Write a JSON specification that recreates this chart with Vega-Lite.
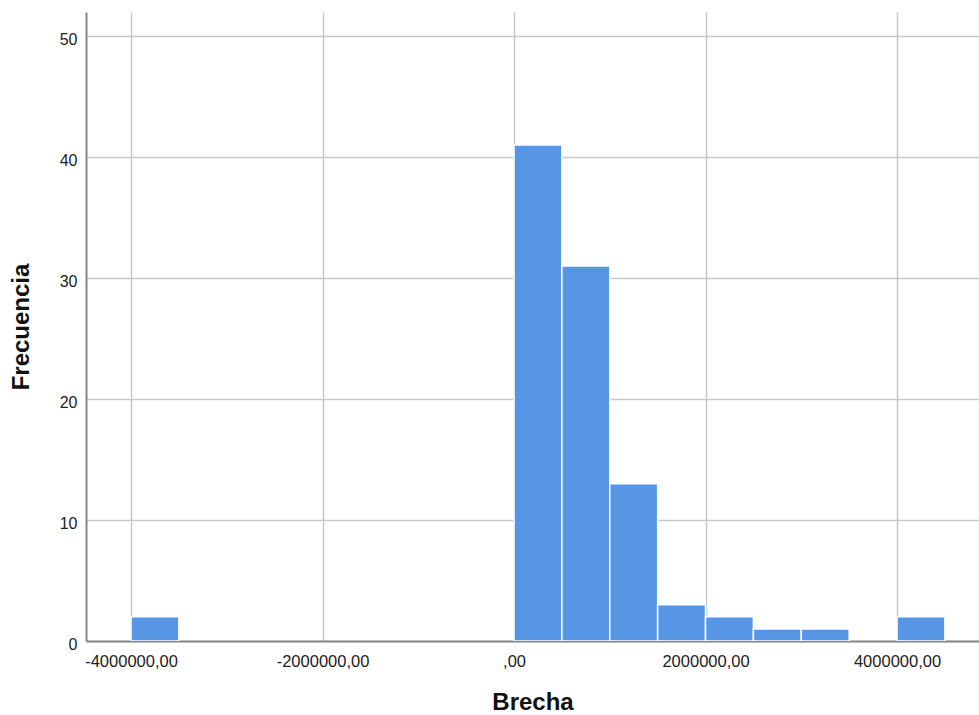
{
  "$schema": "https://vega.github.io/schema/vega-lite/v6.json",
  "autosize": {"type": "none"},
  "padding": {"left": 86, "top": 12, "right": 0, "bottom": 74},
  "width": 893,
  "height": 629,
  "background": "white",
  "config": {
    "view": {"stroke": null},
    "font": "Liberation Sans"
  },
  "data": {
    "values": [
      {"start": -4000000, "end": -3500000, "count": 2},
      {"start": 0, "end": 500000, "count": 41},
      {"start": 500000, "end": 1000000, "count": 31},
      {"start": 1000000, "end": 1500000, "count": 13},
      {"start": 1500000, "end": 2000000, "count": 3},
      {"start": 2000000, "end": 2500000, "count": 2},
      {"start": 2500000, "end": 3000000, "count": 1},
      {"start": 3000000, "end": 3500000, "count": 1},
      {"start": 4000000, "end": 4500000, "count": 2}
    ]
  },
  "mark": {"type": "bar", "color": "#5796e5", "stroke": "white", "strokeWidth": 1.5, "clip": true},
  "encoding": {
    "x": {
      "field": "start", "type": "quantitative",
      "scale": {"domain": [-4470000, 4856000], "nice": false, "zero": false},
      "axis": {
        "title": "Brecha",
        "values": [-4000000, -2000000, 0, 2000000, 4000000],
        "labelExpr": "datum.value == 0 ? ',00' : replace(replace(format(datum.value, '.2f'), '.', ','), '\u2212', '-')",
        "labelFontSize": 16.5, "labelColor": "#222", "labelPadding": 12,
        "ticks": false,
        "domainColor": "#888", "domainWidth": 2,
        "grid": true, "gridColor": "#c8c8c8", "gridWidth": 1.5,
        "titleFontSize": 24, "titleFontWeight": "bold", "titleColor": "#111", "titlePadding": 21
      }
    },
    "x2": {"field": "end"},
    "y": {
      "field": "count", "type": "quantitative",
      "scale": {"domain": [0, 52], "nice": false},
      "axis": {
        "title": "Frecuencia",
        "values": [0, 10, 20, 30, 40, 50],
        "labelFontSize": 16, "labelColor": "#222", "labelPadding": 9, "labelOffset": 3,
        "ticks": false,
        "domainColor": "#888", "domainWidth": 2,
        "grid": true, "gridColor": "#c8c8c8", "gridWidth": 1.5,
        "titleFontSize": 24, "titleFontWeight": "bold", "titleColor": "#111", "titlePadding": 26
      }
    },
    "y2": {"datum": 0}
  }
}
